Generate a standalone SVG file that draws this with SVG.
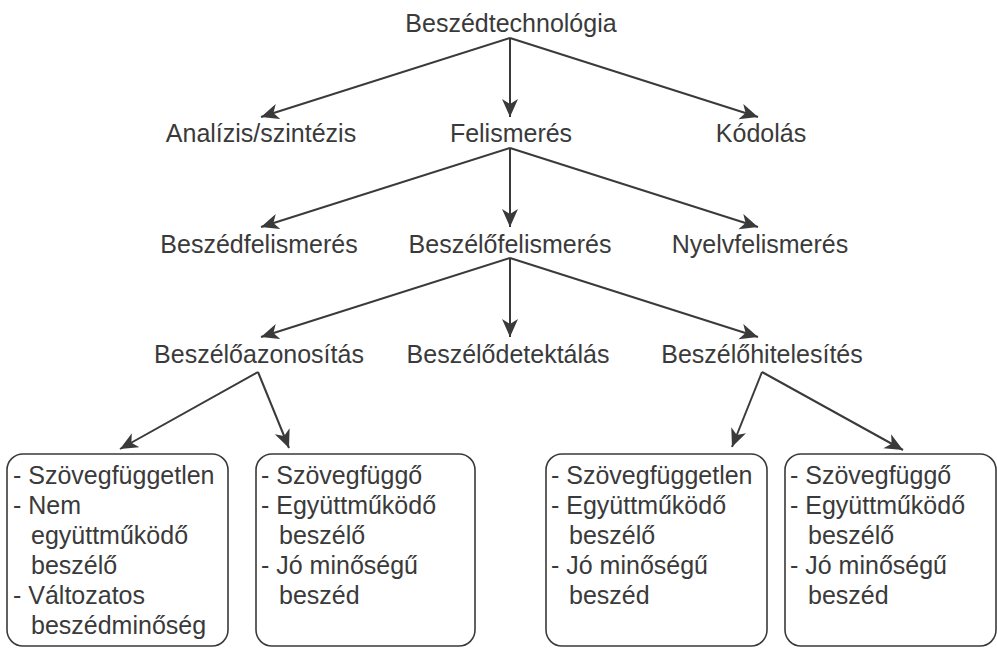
<svg xmlns="http://www.w3.org/2000/svg" width="997" height="649" viewBox="0 0 997 649">
<style>
  text { font-family: "Liberation Sans", Arial, sans-serif; fill: #3a3a3a; }
  .lbl { font-size: 25px; text-anchor: middle; }
  .bx { font-size: 25px; }
  .box { fill: #ffffff; stroke: #3a3a3a; stroke-width: 1.6; }
  .con { stroke: #3a3a3a; stroke-width: 2; fill: none; marker-end: url(#ah); }
</style>
<defs>
  <marker id="ah" markerUnits="userSpaceOnUse" markerWidth="20" markerHeight="18" refX="18" refY="8" orient="auto">
    <path d="M0,0 L18,8 L0,16 L5,8 z" fill="#3a3a3a"/>
  </marker>
</defs>
<rect width="997" height="649" fill="#ffffff"/>
<g id="connectors">
  <line class="con" x1="510" y1="38" x2="261" y2="117"/>
  <line class="con" x1="510" y1="38" x2="510" y2="117"/>
  <line class="con" x1="510" y1="38" x2="758" y2="117"/>
  <line class="con" x1="510" y1="148" x2="261" y2="227"/>
  <line class="con" x1="510" y1="148" x2="510" y2="227"/>
  <line class="con" x1="510" y1="148" x2="758" y2="227"/>
  <line class="con" x1="510" y1="258" x2="261" y2="337"/>
  <line class="con" x1="510" y1="258" x2="510" y2="337"/>
  <line class="con" x1="510" y1="258" x2="758" y2="337"/>
  <line class="con" x1="258" y1="372" x2="120" y2="449"/>
  <line class="con" x1="258" y1="372" x2="289" y2="448"/>
  <line class="con" x1="762" y1="372" x2="732" y2="447"/>
  <line class="con" x1="762" y1="372" x2="903" y2="450"/>
</g>
<g id="n-beszedtechnologia"><text class="lbl" x="511" y="32">Beszédtechnológia</text></g>
<g id="n-analizis"><text class="lbl" x="261" y="142">Analízis/szintézis</text></g>
<g id="n-felismeres"><text class="lbl" x="511" y="142">Felismerés</text></g>
<g id="n-kodolas"><text class="lbl" x="761" y="142">Kódolás</text></g>
<g id="n-beszedfelismeres"><text class="lbl" x="259" y="253">Beszédfelismerés</text></g>
<g id="n-beszelofelismeres"><text class="lbl" x="510" y="253">Beszélőfelismerés</text></g>
<g id="n-nyelvfelismeres"><text class="lbl" x="760" y="253">Nyelvfelismerés</text></g>
<g id="n-beszeloazonositas"><text class="lbl" x="259" y="363">Beszélőazonosítás</text></g>
<g id="n-beszelodetektalas"><text class="lbl" x="508" y="363">Beszélődetektálás</text></g>
<g id="n-beszelohitelesites"><text class="lbl" x="762" y="363">Beszélőhitelesítés</text></g>
<g id="box1">
  <rect class="box" x="7" y="454" width="221" height="192" rx="16"/>
  <text class="bx" x="13" y="484">- Szövegfüggetlen</text>
  <text class="bx" x="13" y="514">- Nem</text>
  <text class="bx" x="31" y="544">együttműködő</text>
  <text class="bx" x="31" y="574">beszélő</text>
  <text class="bx" x="13" y="604">- Változatos</text>
  <text class="bx" x="31" y="634">beszédminőség</text>
</g>
<g id="box2">
  <rect class="box" x="256" y="454" width="219" height="192" rx="16"/>
  <text class="bx" x="261" y="484">- Szövegfüggő</text>
  <text class="bx" x="261" y="514">- Együttműködő</text>
  <text class="bx" x="279" y="544">beszélő</text>
  <text class="bx" x="261" y="574">- Jó minőségű</text>
  <text class="bx" x="279" y="604">beszéd</text>
</g>
<g id="box3">
  <rect class="box" x="546" y="454" width="221" height="192" rx="16"/>
  <text class="bx" x="551" y="484">- Szövegfüggetlen</text>
  <text class="bx" x="551" y="514">- Együttműködő</text>
  <text class="bx" x="569" y="544">beszélő</text>
  <text class="bx" x="551" y="574">- Jó minőségű</text>
  <text class="bx" x="569" y="604">beszéd</text>
</g>
<g id="box4">
  <rect class="box" x="785" y="454" width="211" height="192" rx="16"/>
  <text class="bx" x="790" y="484">- Szövegfüggő</text>
  <text class="bx" x="790" y="514">- Együttműködő</text>
  <text class="bx" x="808" y="544">beszélő</text>
  <text class="bx" x="790" y="574">- Jó minőségű</text>
  <text class="bx" x="808" y="604">beszéd</text>
</g>
</svg>
